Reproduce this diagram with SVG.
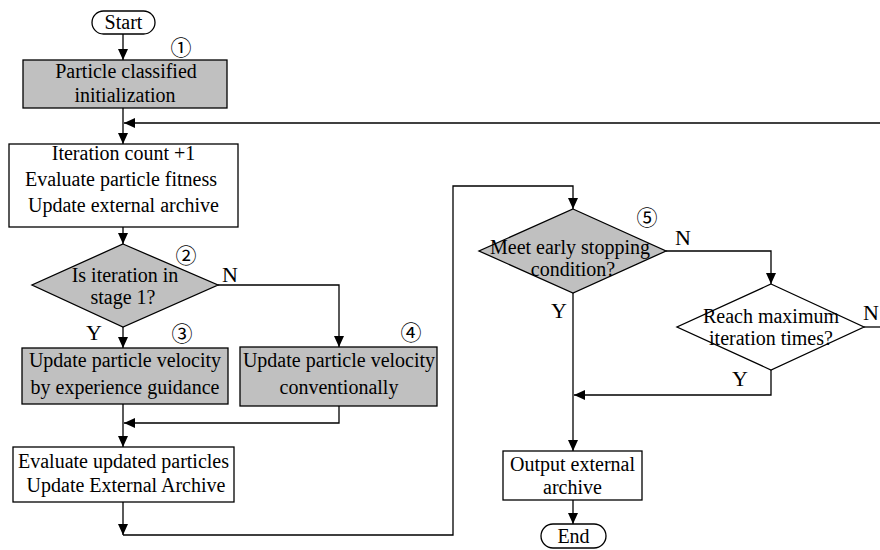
<svg xmlns="http://www.w3.org/2000/svg" width="880" height="550" viewBox="0 0 880 550">
<style>
.n{stroke:#000;stroke-width:1.3;}
.g{fill:#c0c0c0;}
.w{fill:#fff;}
.t{font-family:"Liberation Serif","Times New Roman",serif;font-size:20px;fill:#000;text-anchor:middle;}
.lb{font-family:"Liberation Serif","Times New Roman",serif;font-size:22px;fill:#000;}
.c{font-family:"Noto Sans CJK SC","DejaVu Sans",sans-serif;font-size:21px;fill:#000;text-anchor:middle;}
.e{fill:none;stroke:#000;stroke-width:1.3;}
</style>
<defs>
<marker id="a" markerUnits="userSpaceOnUse" markerWidth="12" markerHeight="10" refX="11" refY="5" orient="auto">
<path d="M0,0 L11,5 L0,10 Z" fill="#000"/>
</marker>
</defs>
<rect width="880" height="550" fill="#fff"/>
<g id="connectors">
<path class="e" d="M123,34 V60" marker-end="url(#a)"/>
<path class="e" d="M123,108 V144" marker-end="url(#a)"/>
<path class="e" d="M880,123 H124" marker-end="url(#a)"/>
<path class="e" d="M123,227 V244" marker-end="url(#a)"/>
<path class="e" d="M123,327 V348" marker-end="url(#a)"/>
<path class="e" d="M218,285 H339 V347" marker-end="url(#a)"/>
<path class="e" d="M339,406 V423 H124" marker-end="url(#a)"/>
<path class="e" d="M123,404 V447" marker-end="url(#a)"/>
<path class="e" d="M123,502 V535" marker-end="url(#a)"/>
<path class="e" d="M123,535 H453 V186 H573 V209" marker-end="url(#a)"/>
<path class="e" d="M666,251 H771 V284" marker-end="url(#a)"/>
<path class="e" d="M864,327 H880"/>
<path class="e" d="M771,370 V395 H574" marker-end="url(#a)"/>
<path class="e" d="M573,293 V451" marker-end="url(#a)"/>
<path class="e" d="M573,500 V524" marker-end="url(#a)"/>
</g>
<g id="start">
<rect class="n w" x="92" y="11" width="63" height="23" rx="11.5"/>
<text class="t" x="123.5" y="29">Start</text>
</g>
<g id="init">
<rect class="n g" x="23" y="60" width="204" height="48"/>
<text class="t" x="126" y="78">Particle classified</text>
<text class="t" x="125" y="102">initialization</text>
<text class="c" x="181" y="55">①</text>
</g>
<g id="iter">
<rect class="n w" x="9" y="144" width="229" height="83"/>
<text class="t" x="123.5" y="160">Iteration count +1</text>
<text class="t" x="121" y="186">Evaluate particle fitness</text>
<text class="t" x="123.5" y="212">Update external archive</text>
</g>
<g id="stage">
<polygon class="n g" points="123,244 218,285 123,327 32,285"/>
<text class="t" x="125" y="282">Is iteration in</text>
<text class="t" x="123" y="304">stage 1?</text>
<text class="c" x="186" y="263">②</text>
<text class="lb" x="222" y="282">N</text>
<text class="lb" x="86" y="340">Y</text>
</g>
<g id="exp">
<rect class="n g" x="22" y="348" width="206" height="56"/>
<text class="t" x="125" y="367">Update particle velocity</text>
<text class="t" x="125" y="394">by experience guidance</text>
<text class="c" x="182" y="341">③</text>
</g>
<g id="conv">
<rect class="n g" x="240" y="347" width="197" height="59"/>
<text class="t" x="339" y="367">Update particle velocity</text>
<text class="t" x="339" y="394">conventionally</text>
<text class="c" x="411" y="340">④</text>
</g>
<g id="eval">
<rect class="n w" x="13" y="447" width="221" height="55"/>
<text class="t" x="123.5" y="468">Evaluate updated particles</text>
<text class="t" x="126" y="492">Update External Archive</text>
</g>
<g id="early">
<polygon class="n g" points="573,209 666,251 573,293 479,251"/>
<text class="t" x="570" y="254">Meet early stopping</text>
<text class="t" x="573" y="276">condition?</text>
<text class="c" x="647" y="225">⑤</text>
<text class="lb" x="675" y="245">N</text>
<text class="lb" x="551" y="318">Y</text>
</g>
<g id="max">
<polygon class="n w" points="771,284 864,327 771,370 677,327"/>
<text class="t" x="771" y="323">Reach maximum</text>
<text class="t" x="771" y="345">iteration times?</text>
<text class="lb" x="863" y="320">N</text>
<text class="lb" x="732" y="386">Y</text>
</g>
<g id="output">
<rect class="n w" x="503" y="451" width="139" height="49"/>
<text class="t" x="572.5" y="471">Output external</text>
<text class="t" x="572.5" y="494">archive</text>
</g>
<g id="end">
<rect class="n w" x="541" y="524" width="65" height="24" rx="12"/>
<text class="t" x="573.5" y="543">End</text>
</g>
</svg>
